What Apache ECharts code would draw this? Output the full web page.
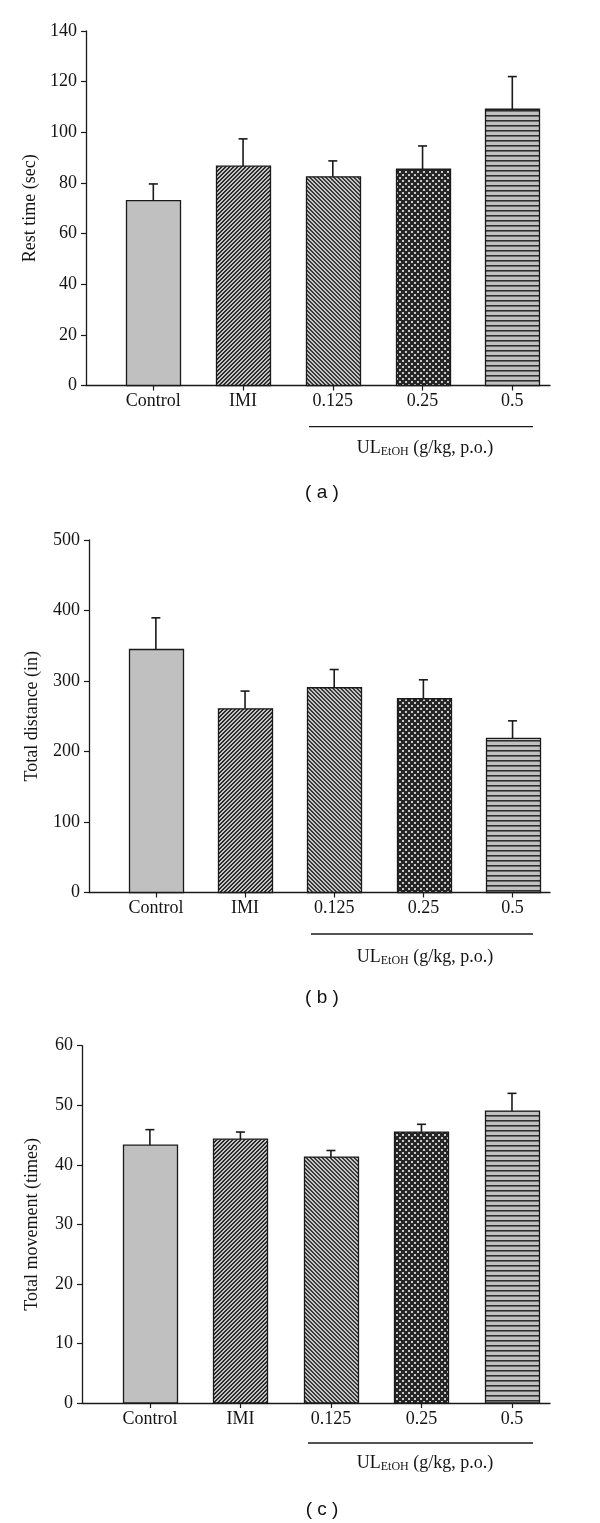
<!DOCTYPE html>
<html><head><meta charset="utf-8">
<script src="https://cdn.jsdelivr.net/npm/echarts@6/dist/echarts.min.js"></script>
<style>html,body{margin:0;padding:0;background:#fff}#c{width:600px;height:1523px}</style>
</head><body><div id="c"></div>
<script>
// ---- data ----
const categories = ['Control', 'IMI', '0.125', '0.25', '0.5'];
const restMean = [73.0, 86.6, 82.4, 85.4, 109.1];
const restSem = [6.6, 10.8, 6.3, 9.2, 12.9];
const distMean = [344.7, 260.6, 290.4, 274.8, 218.5];
const distSem = [44.9, 25.1, 25.9, 26.9, 25.0];
const moveMean = [43.3, 44.3, 41.3, 45.5, 49.0];
const moveSem = [2.6, 1.2, 1.1, 1.3, 3.0];
const restTicks = [0, 140, 20];
const distTicks = [0, 500, 100];
const moveTicks = [0, 60, 10];

// ---- patterns ----
function tile(w, h, draw) {
  const c = document.createElement('canvas'); c.width = w; c.height = h;
  const g = c.getContext('2d'); draw(g); return {image: c, repeat: 'repeat'};
}
const DARK = '#2b2b2b', LIGHT = '#c4c4c4';
const patterns = [
  '#c0c0c0',
  tile(4, 4, g => { g.fillStyle = LIGHT; g.fillRect(0,0,4,4); g.fillStyle = DARK;
    for (let y=0;y<4;y++){ g.fillRect((3 - y + 4)%4, y, 1, 1); g.fillRect((4 - y + 4)%4, y, 1, 1);} }),
  tile(4, 4, g => { g.fillStyle = LIGHT; g.fillRect(0,0,4,4); g.fillStyle = '#3a3a3a';
    for (let y=0;y<4;y++){ g.fillRect(y%4, y, 1, 1); g.fillRect((y+1)%4, y, 1, 1);} }),
  tile(6, 6, g => { g.fillStyle = '#262626'; g.fillRect(0,0,6,6); g.fillStyle = '#c8c8c8';
    g.fillRect(0,0,2,2); g.fillRect(3,3,2,2); }),
  tile(4, 5, g => { g.fillStyle = '#c0c0c0'; g.fillRect(0,0,4,5); g.fillStyle = '#2e2e2e'; g.fillRect(0,0,4,1);
    g.fillStyle = '#6a6a6a'; g.fillRect(0,1,4,1); })
];

function renderItem(params, api) {
  const i = api.value(0), v = api.value(1), e = api.value(2);
  const base = api.coord([i, 0]);
  const top = api.coord([i, v]);
  const et = api.coord([i, v + e]);
  const w = api.size([1, 0])[0] * 0.6;
  return {type: 'group', children: [
    {type: 'line', shape: {x1: top[0], y1: top[1], x2: et[0], y2: et[1]}, style: {stroke: '#1a1a1a', lineWidth: 1.6}},
    {type: 'line', shape: {x1: et[0] - 4.5, y1: et[1], x2: et[0] + 4.5, y2: et[1]}, style: {stroke: '#1a1a1a', lineWidth: 1.6}},
    {type: 'rect', shape: {x: Math.round(top[0] - w / 2) + 0.5, y: top[1], width: Math.round(w), height: base[1] - top[1]},
     style: {fill: patterns[params.dataIndex], stroke: '#1a1a1a', lineWidth: 1.3}}
  ]};
}

const FONT = 'Liberation Serif';
const TXT = '#141414';
const grids = [
  {left: 86, top: 31, width: 464, height: 354.5},
  {left: 89, top: 540, width: 461, height: 352.5},
  {left: 82, top: 1045.7, width: 468, height: 357.3}
];
const names = ['Rest time (sec)', 'Total distance (in)', 'Total movement (times)'];
const nameGaps = [41, 48, 41];
const ticks = [restTicks, distTicks, moveTicks];
const means = [restMean, distMean, moveMean];
const sems = [restSem, distSem, moveSem];

const xAxis = [], yAxis = [], series = [];
for (let k = 0; k < 3; k++) {
  xAxis.push({gridIndex: k, type: 'value', min: -0.75, max: 4.42,
    axisLine: {show: true, onZero: false, lineStyle: {color: '#1a1a1a', width: 1.3}},
    axisTick: {show: true, length: 5, customValues: [0,1,2,3,4], lineStyle: {color: '#1a1a1a', width: 1.2}},
    axisLabel: {show: true, customValues: [0,1,2,3,4], formatter: v => categories[Math.round(v)] || '',
      fontFamily: FONT, fontSize: 18, color: TXT, margin: 7},
    splitLine: {show: false}});
  yAxis.push({gridIndex: k, type: 'value', min: ticks[k][0], max: ticks[k][1], interval: ticks[k][2],
    name: names[k], nameLocation: 'middle', nameRotate: 90, nameGap: nameGaps[k],
    nameTextStyle: {fontFamily: FONT, fontSize: 18, color: TXT},
    axisLine: {show: true, onZero: false, lineStyle: {color: '#1a1a1a', width: 1.3}},
    axisTick: {show: true, length: 5, lineStyle: {color: '#1a1a1a', width: 1.2}},
    axisLabel: {fontFamily: FONT, fontSize: 18, color: TXT, margin: 9},
    splitLine: {show: false}});
  series.push({type: 'custom', xAxisIndex: k, yAxisIndex: k, renderItem: renderItem,
    data: categories.map((c, i) => [i, means[k][i], sems[k][i]]), animation: false});
}

// annotations under each chart
const graphic = [];
const ann = [
  {lineY: 426.7, x1: 309, x2: 533, textY: 448, labelY: 493, label: '( a )'},
  {lineY: 934, x1: 311, x2: 533, textY: 957, labelY: 998, label: '( b )'},
  {lineY: 1443, x1: 308, x2: 533, textY: 1463, labelY: 1510, label: '( c )'}
];
ann.forEach(a => {
  graphic.push({type: 'line', shape: {x1: a.x1, y1: a.lineY, x2: a.x2, y2: a.lineY}, style: {stroke: '#1a1a1a', lineWidth: 1.3}});
  graphic.push({type: 'text', x: 425, y: a.textY, style: {
    text: '{a|UL}{s|EtOH}{a| (g/kg, p.o.)}', align: 'center', verticalAlign: 'middle',
    rich: {a: {fontFamily: FONT, fontSize: 18, fill: TXT, lineHeight: 20},
           s: {fontFamily: FONT, fontSize: 12, fill: TXT, lineHeight: 20, verticalAlign: 'bottom'}}}});
  graphic.push({type: 'text', x: 322, y: a.labelY, style: {text: a.label, align: 'center', verticalAlign: 'middle',
    fontFamily: 'Liberation Sans', fontSize: 19, fill: '#111'}});
});

const chart = echarts.init(document.getElementById('c'), null, {renderer: 'canvas'});
chart.setOption({animation: false, backgroundColor: '#fff', grid: grids, xAxis, yAxis, series, graphic});
</script></body></html>
